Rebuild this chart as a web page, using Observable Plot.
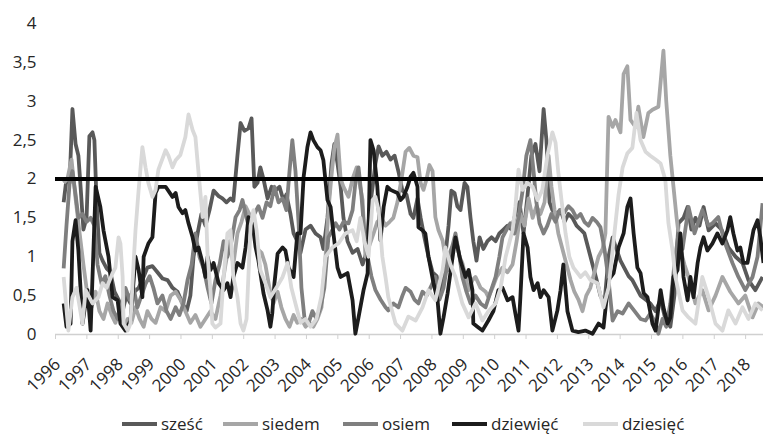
<!DOCTYPE html>
<html>
<head>
<meta charset="utf-8">
<script src="https://cdn.jsdelivr.net/npm/d3@7"></script>
<script src="https://cdn.jsdelivr.net/npm/@observablehq/plot@0.6"></script>
<style>
  html, body { margin: 0; padding: 0; background: #fff; }
  #chart { width: 763px; height: 434px; position: relative; font-family: "Open Sans", sans-serif; overflow: hidden; }
  #legend { position: absolute; left: 0; top: 413px; width: 763px; height: 21px; }
  .item { position: absolute; top: 0; height: 21px; display: flex; align-items: center; font-size: 17px; line-height: 21px; color: #262626; }
  .sw { width: 35px; height: 4px; margin-right: 4px; }
</style>
</head>
<body>
<div id="chart"></div>
<script>
// Series names (legend order) and colours
const seriesNames = ["sześć", "siedem", "osiem", "dziewięć", "dziesięć"];
const seriesColors = ["#595959", "#a6a6a6", "#7f7f7f", "#1c1c1c", "#d9d9d9"];
const threshold = 2;
const yTicks = [0, 0.5, 1, 1.5, 2, 2.5, 3, 3.5, 4];
const yearTicks = [1996,1997,1998,1999,2000,2001,2002,2003,2004,2005,2006,2007,2008,2009,2010,2011,2012,2013,2014,2015,2016,2017,2018];

// [decimal year, value]
const szesc = [[1996.26,1.7],[1996.35,2.0],[1996.45,1.95],[1996.54,2.9],[1996.64,2.45],[1996.73,2.3],[1996.80,1.9],[1996.89,1.35],[1996.99,1.5],[1997.08,2.55],[1997.18,2.6],[1997.24,2.5],[1997.31,1.7],[1997.40,1.05],[1997.50,0.95],[1997.63,0.85],[1997.75,0.8],[1997.88,0.55],[1998.01,0.45],[1998.14,0.3],[1998.26,0.5],[1998.39,0.4],[1998.52,0.55],[1998.65,0.6],[1998.77,0.7],[1998.93,0.86],[1999.09,0.88],[1999.25,0.8],[1999.41,0.72],[1999.57,0.7],[1999.73,0.6],[1999.89,0.55],[2000.05,0.4],[2000.18,0.3],[2000.30,0.5],[2000.40,1.0],[2000.53,1.3],[2000.65,1.55],[2000.78,1.4],[2000.91,1.6],[2001.04,1.85],[2001.20,1.78],[2001.32,1.75],[2001.45,1.7],[2001.58,1.75],[2001.67,1.72],[2001.80,2.3],[2001.90,2.72],[2002.02,2.62],[2002.15,2.65],[2002.25,2.78],[2002.34,1.9],[2002.44,1.95],[2002.53,2.15],[2002.63,2.0],[2002.76,1.75],[2002.89,1.9],[2003.01,1.85],[2003.14,1.9],[2003.27,1.72],[2003.36,1.8],[2003.49,1.55],[2003.59,1.3],[2003.71,1.2],[2003.81,1.05],[2003.97,1.35],[2004.13,1.4],[2004.29,1.3],[2004.45,1.25],[2004.54,1.1],[2004.67,1.5],[2004.80,2.2],[2004.89,2.45],[2004.99,2.2],[2005.09,1.9],[2005.18,1.5],[2005.31,1.2],[2005.47,1.05],[2005.63,1.1],[2005.79,0.9],[2005.91,1.05],[2006.01,1.6],[2006.11,1.9],[2006.20,2.2],[2006.30,2.42],[2006.42,2.3],[2006.55,2.35],[2006.68,2.25],[2006.81,2.3],[2006.93,2.1],[2007.06,1.85],[2007.19,1.8],[2007.32,1.55],[2007.41,1.5],[2007.54,1.75],[2007.64,1.5],[2007.76,1.25],[2007.89,1.0],[2008.02,0.8],[2008.15,0.75],[2008.27,0.5],[2008.40,0.9],[2008.53,1.4],[2008.62,1.85],[2008.72,1.82],[2008.81,1.65],[2008.91,1.6],[2009.04,1.95],[2009.13,1.9],[2009.23,1.5],[2009.32,1.2],[2009.42,0.95],[2009.52,1.25],[2009.64,1.1],[2009.77,1.2],[2009.90,1.25],[2010.03,1.2],[2010.15,1.3],[2010.28,1.35],[2010.41,1.4],[2010.54,1.35],[2010.66,1.55],[2010.79,1.7],[2010.92,1.3],[2011.05,1.8],[2011.17,2.3],[2011.30,2.45],[2011.43,2.1],[2011.56,2.9],[2011.65,2.5],[2011.75,1.7],[2011.84,1.6],[2011.97,1.55],[2012.10,1.6],[2012.23,1.45],[2012.35,1.55],[2012.48,1.5],[2012.61,1.4],[2012.74,1.35],[2012.86,1.3],[2012.99,1.1],[2013.12,0.9],[2013.25,0.7],[2013.37,0.5],[2013.50,0.4],[2013.63,1.0],[2013.76,1.25],[2013.88,1.1],[2014.01,0.95],[2014.14,0.85],[2014.27,0.75],[2014.39,0.7],[2014.52,0.6],[2014.65,0.5],[2014.81,0.45],[2014.96,0.4],[2015.13,0.3],[2015.29,0.45],[2015.44,0.2],[2015.60,0.1],[2015.73,0.5],[2015.86,1.43],[2016.02,1.5],[2016.15,1.64],[2016.27,1.35],[2016.40,1.5],[2016.53,1.4],[2016.66,1.64],[2016.82,1.34],[2017.04,1.43],[2017.23,1.35],[2017.45,1.12],[2017.68,1.0],[2017.90,0.92],[2018.09,0.7],[2018.31,0.57],[2018.54,0.74]];

const siedem = [[1996.26,1.95],[1996.38,2.0],[1996.51,2.25],[1996.64,1.75],[1996.77,1.3],[1996.89,0.9],[1997.02,0.5],[1997.15,0.35],[1997.28,0.55],[1997.40,0.3],[1997.53,0.2],[1997.66,0.4],[1997.79,0.25],[1997.91,0.15],[1998.04,0.3],[1998.17,0.1],[1998.30,0.2],[1998.42,0.15],[1998.55,0.35],[1998.68,0.2],[1998.81,0.1],[1998.93,0.3],[1999.06,0.2],[1999.19,0.15],[1999.35,0.35],[1999.51,0.3],[1999.67,0.5],[1999.83,0.55],[1999.98,0.45],[2000.14,0.3],[2000.30,0.15],[2000.46,0.25],[2000.62,0.1],[2000.78,0.2],[2000.94,0.3],[2001.10,0.2],[2001.26,0.5],[2001.42,0.9],[2001.55,1.2],[2001.67,0.9],[2001.80,1.3],[2001.93,1.45],[2002.06,1.65],[2002.18,1.55],[2002.31,1.35],[2002.44,1.1],[2002.57,1.05],[2002.69,0.9],[2002.82,0.6],[2002.95,0.4],[2003.08,0.55],[2003.20,0.35],[2003.33,0.2],[2003.46,0.1],[2003.59,0.25],[2003.71,0.15],[2003.84,0.2],[2003.97,0.1],[2004.10,0.15],[2004.22,0.1],[2004.35,0.2],[2004.48,0.35],[2004.61,1.0],[2004.70,1.6],[2004.80,2.05],[2004.89,2.4],[2004.99,2.57],[2005.09,2.0],[2005.18,1.9],[2005.34,1.77],[2005.47,2.0],[2005.60,2.15],[2005.69,1.95],[2005.79,1.73],[2005.88,1.0],[2006.01,1.15],[2006.14,1.3],[2006.26,1.45],[2006.39,1.5],[2006.52,1.4],[2006.65,1.45],[2006.77,1.5],[2006.90,1.7],[2007.03,2.0],[2007.16,2.35],[2007.28,2.4],[2007.41,2.3],[2007.54,2.28],[2007.64,1.95],[2007.73,1.86],[2007.83,2.0],[2007.92,2.18],[2008.02,2.1],[2008.11,1.51],[2008.21,1.34],[2008.34,1.21],[2008.43,1.0],[2008.53,0.83],[2008.66,1.1],[2008.75,1.25],[2008.88,1.0],[2008.97,0.92],[2009.07,0.75],[2009.17,0.57],[2009.29,0.7],[2009.39,0.74],[2009.55,0.6],[2009.71,0.55],[2009.80,0.48],[2009.93,0.6],[2010.06,0.74],[2010.25,0.86],[2010.41,0.8],[2010.57,0.9],[2010.70,1.2],[2010.82,1.55],[2010.95,1.4],[2011.08,1.75],[2011.21,1.5],[2011.33,1.65],[2011.46,1.55],[2011.59,1.7],[2011.72,2.3],[2011.81,1.9],[2011.91,1.6],[2012.03,1.3],[2012.16,1.1],[2012.29,0.9],[2012.42,0.7],[2012.54,0.55],[2012.67,0.45],[2012.80,0.3],[2012.92,0.5],[2013.05,0.6],[2013.18,0.8],[2013.31,1.0],[2013.44,1.1],[2013.53,1.3],[2013.63,2.8],[2013.76,2.67],[2013.85,2.76],[2014.01,2.6],[2014.11,3.35],[2014.23,3.45],[2014.33,2.76],[2014.49,2.67],[2014.58,2.93],[2014.74,2.54],[2014.90,2.85],[2015.03,2.89],[2015.22,2.93],[2015.38,3.65],[2015.47,3.0],[2015.60,2.3],[2015.70,1.9],[2015.80,1.5],[2015.92,1.1],[2016.05,0.9],[2016.18,0.74],[2016.40,0.4],[2016.62,0.57],[2016.82,0.31],[2017.04,0.5],[2017.26,0.74],[2017.51,0.55],[2017.77,0.4],[2017.99,0.5],[2018.22,0.22],[2018.41,0.4],[2018.57,0.35]];

const osiem = [[1996.26,0.85],[1996.35,1.4],[1996.45,1.95],[1996.54,2.1],[1996.64,1.8],[1996.73,1.5],[1996.86,1.55],[1996.99,1.45],[1997.12,1.5],[1997.24,1.4],[1997.34,0.9],[1997.47,0.65],[1997.59,0.75],[1997.72,0.5],[1997.85,0.3],[1997.98,0.2],[1998.10,0.35],[1998.23,0.6],[1998.36,0.45],[1998.49,0.6],[1998.61,0.35],[1998.74,0.5],[1998.87,0.65],[1999.00,0.75],[1999.12,0.6],[1999.25,0.4],[1999.41,0.5],[1999.54,0.3],[1999.67,0.2],[1999.83,0.35],[1999.95,0.25],[2000.08,0.4],[2000.21,0.7],[2000.34,0.9],[2000.46,1.3],[2000.59,1.0],[2000.72,0.85],[2000.85,0.6],[2000.97,0.4],[2001.10,0.7],[2001.23,0.9],[2001.36,1.2],[2001.48,1.0],[2001.61,1.2],[2001.74,1.51],[2001.87,1.6],[2001.96,1.73],[2002.09,1.5],[2002.22,1.3],[2002.34,1.55],[2002.47,1.65],[2002.60,1.5],[2002.73,1.7],[2002.85,1.65],[2002.98,1.9],[2003.11,1.7],[2003.24,1.75],[2003.36,1.6],[2003.46,2.1],[2003.55,2.5],[2003.65,2.1],[2003.75,1.43],[2003.84,0.6],[2003.94,0.2],[2004.07,0.15],[2004.19,0.3],[2004.32,0.2],[2004.45,0.35],[2004.57,0.6],[2004.70,1.25],[2004.83,1.35],[2004.93,1.43],[2005.05,1.35],[2005.18,1.45],[2005.34,1.43],[2005.47,1.6],[2005.56,1.95],[2005.66,2.15],[2005.75,1.8],[2005.85,1.3],[2005.95,1.0],[2006.07,0.75],[2006.20,0.57],[2006.36,0.45],[2006.52,0.35],[2006.61,0.31],[2006.77,0.4],[2006.93,0.35],[2007.06,0.5],[2007.16,0.6],[2007.32,0.55],[2007.44,0.45],[2007.57,0.4],[2007.70,0.55],[2007.83,0.5],[2007.95,0.6],[2008.11,0.74],[2008.24,0.45],[2008.37,0.6],[2008.53,1.0],[2008.66,1.15],[2008.75,1.3],[2008.88,1.0],[2008.97,0.74],[2009.10,0.55],[2009.23,0.4],[2009.39,0.5],[2009.55,0.4],[2009.71,0.35],[2009.87,0.55],[2010.03,0.74],[2010.15,1.0],[2010.25,1.25],[2010.38,1.35],[2010.50,1.43],[2010.63,1.3],[2010.76,1.5],[2010.89,1.85],[2011.01,2.3],[2011.14,2.5],[2011.24,2.1],[2011.33,1.7],[2011.43,1.43],[2011.56,1.3],[2011.68,1.4],[2011.81,1.55],[2011.94,1.45],[2012.07,1.6],[2012.19,1.55],[2012.35,1.65],[2012.48,1.6],[2012.61,1.5],[2012.74,1.55],[2012.86,1.45],[2012.99,1.4],[2013.12,1.5],[2013.25,1.45],[2013.37,1.38],[2013.50,1.1],[2013.63,0.7],[2013.76,0.18],[2013.92,0.3],[2014.08,0.27],[2014.27,0.4],[2014.46,0.3],[2014.65,0.2],[2014.81,0.18],[2014.96,0.27],[2015.13,0.15],[2015.22,0.01],[2015.35,0.2],[2015.47,0.1],[2015.60,0.4],[2015.73,0.9],[2015.86,1.3],[2015.99,1.1],[2016.18,1.64],[2016.37,1.3],[2016.62,1.6],[2016.82,1.4],[2016.94,1.43],[2017.13,1.51],[2017.32,1.2],[2017.58,0.92],[2017.77,0.74],[2017.99,0.57],[2018.22,0.74],[2018.38,1.0],[2018.54,1.69]];

const dziewiec = [[1996.26,0.4],[1996.35,0.1],[1996.48,0.14],[1996.54,1.2],[1996.64,1.47],[1996.73,1.08],[1996.86,0.14],[1997.02,0.57],[1997.12,0.05],[1997.28,1.9],[1997.43,1.64],[1997.53,1.34],[1997.69,1.0],[1997.82,0.48],[1997.98,0.44],[1998.07,0.14],[1998.23,0.05],[1998.39,0.18],[1998.55,1.0],[1998.65,0.83],[1998.77,0.48],[1998.81,1.0],[1998.96,1.17],[1999.09,1.25],[1999.19,1.82],[1999.28,1.9],[1999.51,1.9],[1999.73,1.77],[1999.83,1.82],[1999.92,1.64],[2000.05,1.56],[2000.14,1.6],[2000.24,1.43],[2000.37,1.25],[2000.46,1.08],[2000.56,1.12],[2000.69,0.92],[2000.78,0.74],[2000.85,1.0],[2000.94,0.83],[2001.04,0.92],[2001.20,0.66],[2001.36,0.57],[2001.48,0.66],[2001.58,0.48],[2001.67,0.74],[2001.80,0.92],[2001.96,0.86],[2002.06,1.12],[2002.15,1.51],[2002.28,1.43],[2002.38,1.12],[2002.47,0.95],[2002.63,0.53],[2002.76,0.31],[2002.85,0.1],[2002.91,0.27],[2002.98,0.66],[2003.08,1.04],[2003.24,1.12],[2003.33,1.08],[2003.43,0.86],[2003.59,0.74],[2003.71,1.3],[2003.81,1.3],[2003.91,2.03],[2004.03,2.41],[2004.13,2.6],[2004.22,2.5],[2004.35,2.41],[2004.45,2.37],[2004.54,2.24],[2004.67,1.73],[2004.77,1.64],[2004.86,1.3],[2004.99,0.86],[2005.09,0.74],[2005.31,0.79],[2005.47,0.44],[2005.56,0.01],[2005.66,0.22],[2005.82,0.57],[2005.95,0.79],[2006.04,2.5],[2006.14,2.37],[2006.26,1.9],[2006.36,1.21],[2006.46,1.64],[2006.58,1.9],[2006.68,1.86],[2006.90,1.82],[2007.00,1.73],[2007.09,1.77],[2007.22,1.9],[2007.32,2.03],[2007.41,2.08],[2007.54,1.9],[2007.57,1.38],[2007.70,1.34],[2007.79,1.3],[2007.89,1.0],[2008.05,0.66],[2008.18,0.44],[2008.27,0.01],[2008.37,0.22],[2008.50,0.53],[2008.66,1.0],[2008.75,1.25],[2008.91,0.95],[2009.07,0.74],[2009.17,0.83],[2009.29,0.57],[2009.32,0.14],[2009.48,0.09],[2009.61,0.05],[2009.80,0.18],[2009.96,0.3],[2010.12,0.57],[2010.25,0.6],[2010.41,0.44],[2010.57,0.48],[2010.66,0.27],[2010.76,0.05],[2010.82,0.48],[2010.92,1.3],[2011.05,1.12],[2011.14,0.74],[2011.24,0.57],[2011.37,0.66],[2011.46,0.48],[2011.56,0.57],[2011.72,0.48],[2011.84,0.05],[2012.00,0.31],[2012.10,0.57],[2012.19,0.9],[2012.32,0.3],[2012.48,0.05],[2012.67,0.03],[2012.89,0.05],[2013.12,0.01],[2013.31,0.14],[2013.47,0.09],[2013.63,0.7],[2013.79,0.79],[2013.95,1.12],[2014.11,1.3],[2014.23,1.64],[2014.33,1.75],[2014.43,1.3],[2014.55,0.86],[2014.65,0.79],[2014.75,0.53],[2014.87,0.48],[2015.03,0.14],[2015.13,0.05],[2015.29,0.57],[2015.38,0.35],[2015.51,0.14],[2015.60,0.22],[2015.70,0.74],[2015.83,0.83],[2015.92,1.3],[2016.02,0.74],[2016.15,0.44],[2016.24,0.74],[2016.34,0.48],[2016.47,0.92],[2016.56,1.12],[2016.66,1.25],[2016.78,1.08],[2016.94,1.17],[2017.10,1.3],[2017.26,1.17],[2017.42,1.34],[2017.51,1.51],[2017.61,1.3],[2017.74,1.08],[2017.83,1.12],[2017.93,0.92],[2018.06,0.92],[2018.15,1.12],[2018.25,1.34],[2018.38,1.47],[2018.47,1.25],[2018.57,0.92]];

const dziesiec = [[1996.26,0.74],[1996.41,0.05],[1996.54,0.48],[1996.67,0.6],[1996.86,0.14],[1996.96,0.57],[1997.18,0.4],[1997.37,0.48],[1997.50,0.66],[1997.63,0.6],[1997.82,0.79],[1997.91,0.86],[1998.01,1.25],[1998.07,1.17],[1998.14,0.74],[1998.17,0.14],[1998.30,0.05],[1998.39,0.14],[1998.49,0.92],[1998.55,1.34],[1998.65,1.86],[1998.77,2.41],[1998.87,2.15],[1998.96,1.95],[1999.09,1.77],[1999.19,1.86],[1999.28,2.12],[1999.51,2.37],[1999.60,2.3],[1999.73,2.15],[1999.83,2.24],[1999.98,2.31],[2000.14,2.54],[2000.24,2.83],[2000.37,2.63],[2000.46,2.54],[2000.56,2.08],[2000.69,1.51],[2000.78,1.77],[2000.85,1.0],[2000.94,0.57],[2001.00,0.14],[2001.10,0.09],[2001.26,0.14],[2001.36,0.74],[2001.48,1.3],[2001.58,1.34],[2001.67,0.74],[2001.80,0.48],[2001.90,0.14],[2001.99,0.05],[2002.09,0.2],[2002.22,1.4],[2002.31,1.6],[2002.41,1.34],[2002.53,0.83],[2002.69,0.66],[2002.85,0.48],[2003.04,0.6],[2003.24,0.74],[2003.40,0.92],[2003.52,0.6],[2003.68,0.35],[2003.81,0.15],[2003.97,0.2],[2004.13,0.1],[2004.32,0.2],[2004.48,0.5],[2004.61,1.0],[2004.83,1.12],[2005.02,1.17],[2005.24,1.3],[2005.47,1.34],[2005.60,1.2],[2005.72,1.5],[2005.85,1.2],[2005.98,1.0],[2006.11,1.73],[2006.20,1.77],[2006.30,1.6],[2006.42,1.0],[2006.52,0.74],[2006.61,0.48],[2006.84,0.14],[2007.06,0.05],[2007.25,0.23],[2007.48,0.18],[2007.70,0.35],[2007.89,0.57],[2008.11,0.44],[2008.34,0.83],[2008.43,1.12],[2008.59,0.9],[2008.75,0.74],[2008.97,0.4],[2009.17,0.22],[2009.39,0.4],[2009.61,0.18],[2009.80,0.3],[2010.03,0.4],[2010.19,0.6],[2010.35,1.0],[2010.57,1.34],[2010.66,1.64],[2010.76,2.12],[2010.89,1.86],[2011.05,1.95],[2011.21,1.9],[2011.37,1.73],[2011.52,1.86],[2011.68,2.3],[2011.84,2.6],[2011.94,2.47],[2012.03,2.08],[2012.13,1.73],[2012.26,1.3],[2012.38,1.0],[2012.51,0.86],[2012.74,0.74],[2012.89,0.8],[2013.05,0.7],[2013.28,0.66],[2013.47,0.35],[2013.63,0.6],[2013.79,1.2],[2013.95,1.8],[2014.08,2.15],[2014.23,2.33],[2014.39,2.4],[2014.52,2.85],[2014.65,2.5],[2014.81,2.35],[2014.96,2.3],[2015.13,2.25],[2015.29,2.2],[2015.44,1.99],[2015.54,1.43],[2015.67,1.08],[2015.76,0.74],[2015.99,0.31],[2016.18,0.22],[2016.40,0.14],[2016.62,0.74],[2016.82,0.48],[2017.04,0.14],[2017.26,0.05],[2017.45,0.31],[2017.68,0.14],[2017.90,0.35],[2018.09,0.2],[2018.31,0.4],[2018.54,0.31]];

const seriesData = [szesc, siedem, osiem, dziewiec, dziesiec];

const toRows = (arr) => arr.map(([t, v]) => ({t, v}));

const lineMarks = seriesData.map((arr, i) =>
  Plot.line(toRows(arr), {x: "t", y: "v", stroke: seriesColors[i], strokeWidth: 3.8, strokeLinejoin: "round", strokeLinecap: "butt"})
);

const chart = Plot.plot({
  width: 763,
  height: 405,
  marginLeft: 55,
  marginRight: 0,
  marginTop: 23,
  marginBottom: 71,
  style: {fontFamily: "'Open Sans', sans-serif", fontSize: "17px", color: "#262626", background: "#fff", overflow: "visible"},
  x: {type: "linear", domain: [1996, 2018.57], label: null},
  y: {type: "linear", domain: [0, 4], label: null},
  marks: [
    Plot.ruleY([0], {stroke: "#d0d0d0", strokeWidth: 1.3}),
    Plot.axisX({ticks: yearTicks, tickFormat: () => "", tickSize: 5, stroke: "#d0d0d0", label: null}),
    Plot.text(yearTicks, {x: d => d, y: 0, text: d => String(d), rotate: -45, textAnchor: "end", lineAnchor: "middle", dx: 2, dy: 27, fill: "#262626", fontSize: 17}),
    Plot.axisY({ticks: yTicks, tickFormat: d => String(d).replace(".", ","), tickSize: 0, tickPadding: 19, fill: "#262626", fontSize: 17, label: null}),
    ...lineMarks,
    Plot.ruleY([threshold], {stroke: "#000", strokeWidth: 3.8})
  ]
});

const root = document.getElementById("chart");
root.appendChild(chart);

// Legend
const legend = document.createElement("div");
legend.id = "legend";
const lefts = [122, 223, 343, 452, 583];
seriesNames.forEach((name, i) => {
  const it = document.createElement("div");
  it.className = "item";
  it.style.left = lefts[i] + "px";
  const sw = document.createElement("div");
  sw.className = "sw";
  sw.style.background = seriesColors[i];
  const tx = document.createElement("span");
  tx.textContent = name;
  it.appendChild(sw);
  it.appendChild(tx);
  legend.appendChild(it);
});
root.appendChild(legend);
</script>
</body>
</html>
